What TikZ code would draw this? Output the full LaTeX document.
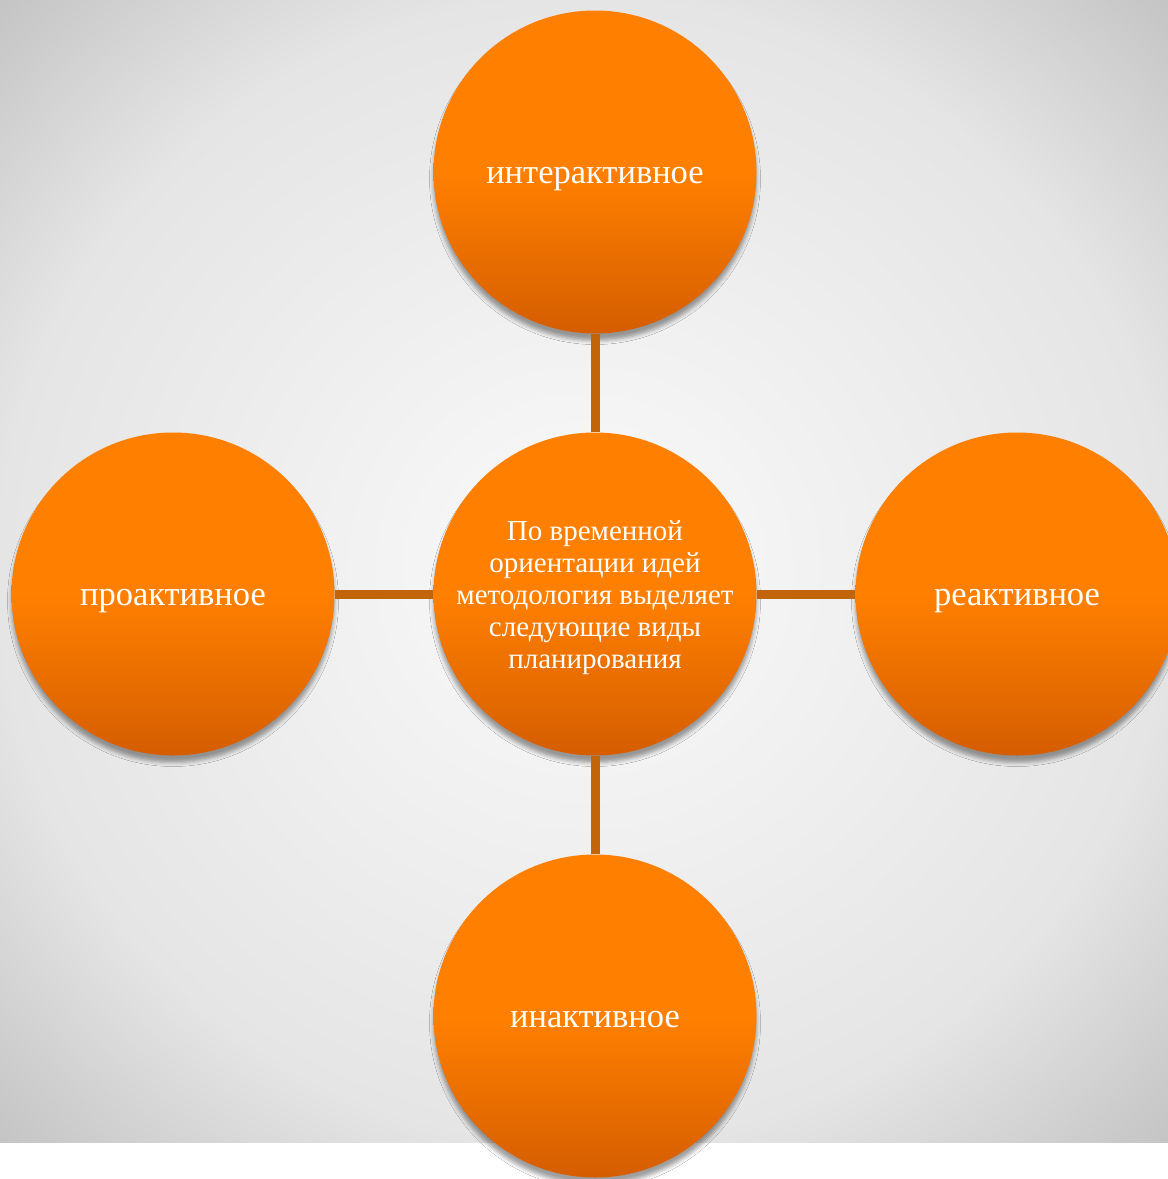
\documentclass[tikz,border=0pt]{standalone}
\usepackage{fontspec}
\setmainfont{Liberation Serif}
\usetikzlibrary{shadows.blur}

\definecolor{bgin}{HTML}{F5F5F5}
\definecolor{bgmid}{HTML}{E5E5E5}
\definecolor{bgout}{HTML}{C4C4C4}
\definecolor{orTop}{HTML}{FF8000}
\definecolor{orBot}{HTML}{D55D00}
\definecolor{spokeC}{HTML}{C2650A}
\pgfdeclareradialshading{backdrop}{\pgfpoint{0bp}{0bp}}{color(0bp)=(bgin); color(6bp)=(bgin); color(25bp)=(bgmid); color(35.5bp)=(bgout); color(50bp)=(bgout)}

\begin{document}
\begin{tikzpicture}[x=1pt,y=-1pt,
  bubble/.style={circle,minimum size=323pt,inner sep=0pt,text=white,
    top color=orTop,bottom color=orBot,middle color=orTop,
    blur shadow={shadow xshift=0pt,shadow yshift=-7pt,shadow blur radius=4pt,shadow opacity=38},
    font=\fontsize{34.5}{40}\selectfont,text height=22pt,text depth=0pt},
  spoke/.style={draw=spokeC,line width=9pt}]
\useasboundingbox (0,0) rectangle (1168,1179);
\fill[white] (0,0) rectangle (1168,1179);
\shade[shading=backdrop] (0,0) rectangle (1168,1142);
% circles
\node[bubble,align=center,text height=156pt,text depth=,font=\fontsize{29}{32}\selectfont] (hub) at (595,594)
  {По временной\\ориентации идей\\методология выделяет\\следующие виды\\планирования};
\node[bubble] (inter) at (595,172) {интерактивное};
\node[bubble] (proact) at (173,594) {проактивное};
\node[bubble] (react) at (1017,594) {реактивное};
\node[bubble] (inact) at (595,1016) {инактивное};
% spokes
\foreach \n in {inter,proact,react,inact}
  \draw[spoke] (hub) -- (\n);
\end{tikzpicture}
\end{document}
